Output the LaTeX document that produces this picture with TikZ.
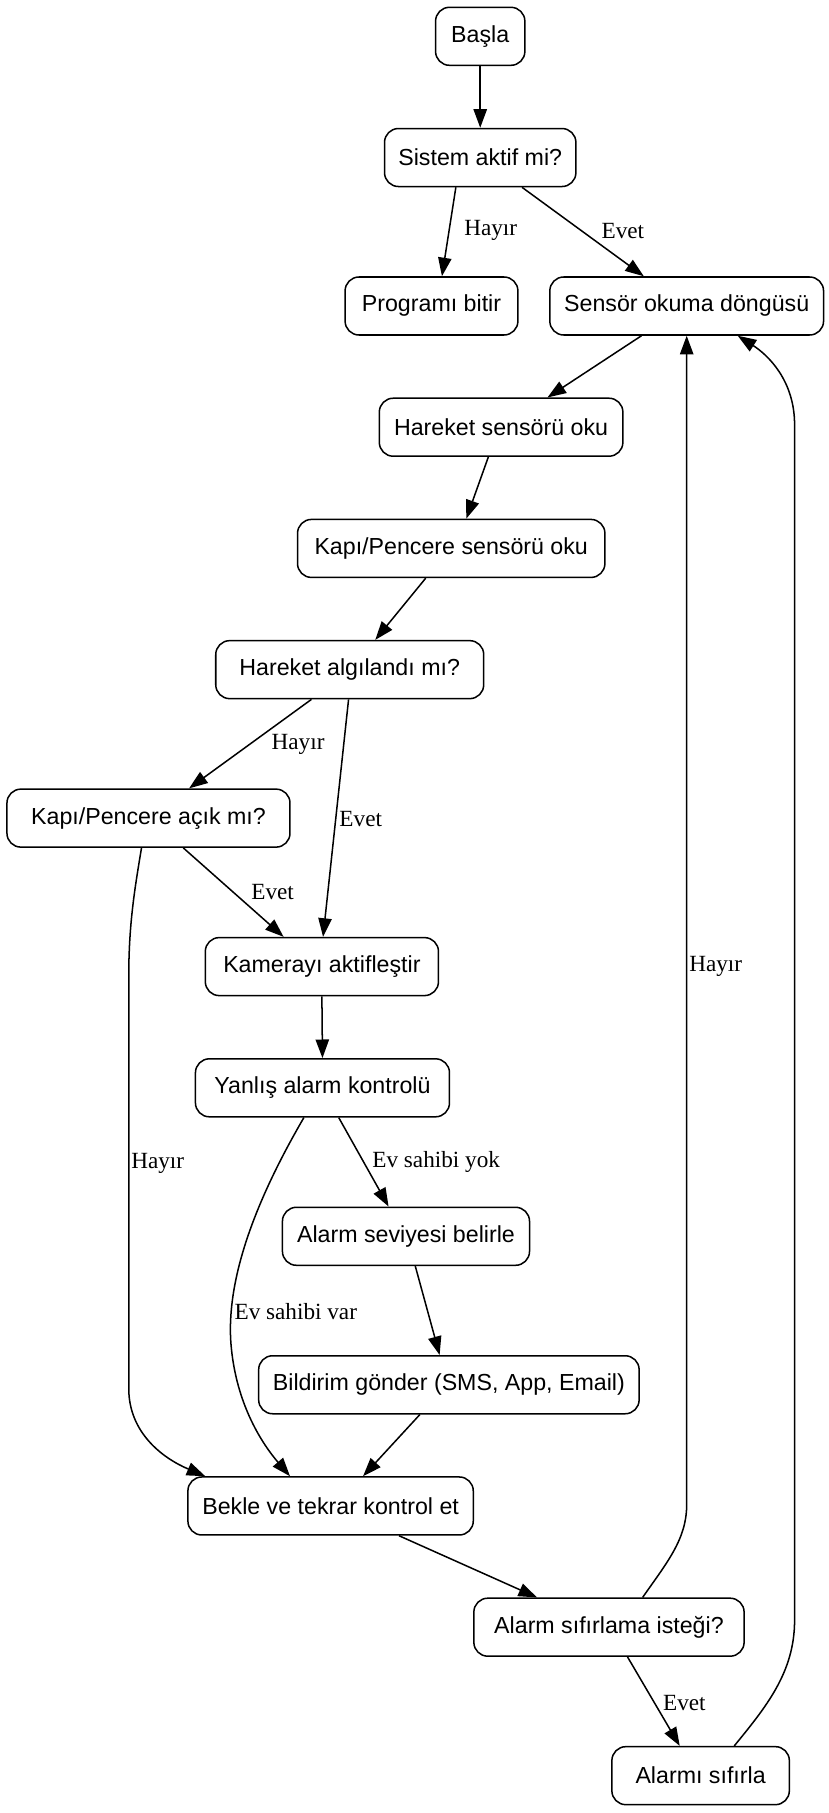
\documentclass[tikz,border=0pt]{standalone}
\usepackage{fontspec}
\setmainfont{Liberation Sans}
\newfontfamily\lblfont{Liberation Serif}
\usetikzlibrary{arrows.meta,calc}
\tikzset{
  box/.style={draw, line width=1.3pt, rounded corners=12pt, minimum height=50pt,
    inner xsep=6pt, inner ysep=0pt, font=\fontsize{20}{24}\selectfont, fill=white},
  conn/.style={line width=1.3pt, -{Triangle[length=16pt,width=11.5pt]}},
  lbl/.style={font=\lblfont\fontsize{20}{24}\selectfont, inner sep=0pt},
}
\begin{document}
\begin{tikzpicture}[x=1pt,y=-1pt]
\useasboundingbox (0,0) rectangle (714,1563);
\node[box, minimum width=77pt]  (basla) at (414,31.3) {Başla};
\node[box, minimum width=165pt] (sis)   at (414,135.8) {Sistem aktif mi?};
\node[box, minimum width=149pt] (prog)  at (372,263.8) {Programı bitir};
\node[box, minimum width=236pt] (sen)   at (592,263.8) {Sensör okuma döngüsü};
\node[box, minimum width=210pt] (hs)    at (432,368.3) {Hareket sensörü oku};
\node[box, minimum width=265pt] (kps)   at (389,472.8) {Kapı/Pencere sensörü oku};
\node[box, minimum width=231pt] (ha)    at (301.5,577.3) {Hareket algılandı mı?};
\node[box, minimum width=244pt] (kpa)   at (128,705.3) {Kapı/Pencere açık mı?};
\node[box, minimum width=201pt] (kam)   at (277.5,833.3) {Kamerayı aktifleştir};
\node[box, minimum width=219pt] (yan)   at (278,937.8) {Yanlış alarm kontrolü};
\node[box, minimum width=213pt] (asb)   at (350,1065.8) {Alarm seviyesi belirle};
\node[box, minimum width=328pt] (bil)   at (387,1193.8) {Bildirim gönder (SMS, App, Email)};
\node[box, minimum width=246pt] (bek)   at (285,1298.3) {Bekle ve tekrar kontrol et};
\node[box, minimum width=233pt] (asi)   at (525,1402.8) {Alarm sıfırlama isteği?};
\node[box, minimum width=153pt] (ars)   at (604,1530.8) {Alarmı sıfırla};

\draw[conn] (basla.south) -- (sis.north);
\draw[conn] ($(sis.south)+(-21,0)$) -- ($(prog.north)+(9,0)$);
\draw[conn] ($(sis.south)+(36,0)$) -- ($(sen.north)+(-37,0)$);
\draw[conn] ($(sen.south)+(-39,0)$) -- ($(hs.north)+(40,0)$);
\draw[conn] ($(hs.south)+(-11,0)$) -- ($(kps.north)+(13,0)$);
\draw[conn] ($(kps.south)+(-22,0)$) -- ($(ha.north)+(22,0)$);
\draw[conn] ($(ha.south)+(-33,0)$) -- ($(kpa.north)+(35,0)$);
\draw[conn] ($(ha.south)+(-1,0)$) -- ($(kam.north)+(1,0)$);
\draw[conn] ($(kpa.south)+(30,0)$) -- ($(kam.north)+(-33,0)$);
\draw[conn] ($(kpa.south)+(-6,0)$) .. controls (116,767) and (111,797) .. (111,842)
  -- (111,1197) .. controls (111,1235) and (140,1257) .. ($(bek.north)+(-108,0)$);
\draw[conn] (kam.south) -- (yan.north);
\draw[conn] ($(yan.south)+(14,0)$) -- ($(asb.north)+(-15,0)$);
\draw[conn] ($(yan.south)+(-16,0)$) .. controls (225,1027) and (195,1097) .. (199,1157)
  .. controls (203,1212) and (228,1247) .. ($(bek.north)+(-35,0)$);
\draw[conn] ($(asb.south)+(8,0)$) -- ($(bil.north)+(-8,0)$);
\draw[conn] ($(bil.south)+(-25,0)$) -- ($(bek.north)+(28,0)$);
\draw[conn] ($(bek.south)+(59,0)$) -- ($(asi.north)+(-62,0)$);
\draw[conn] ($(asi.north)+(29,0)$) .. controls (575,1347) and (592,1327) .. (592,1297)
  -- (sen.south);
\draw[conn] ($(asi.south)+(16,0)$) -- ($(ars.north)+(-18,0)$);
\draw[conn] ($(ars.north)+(29,0)$) .. controls (660,1472) and (685,1442) .. (685,1397)
  -- (685,366) .. controls (685,328) and (662,306) .. ($(sen.south)+(44,0)$);

\node[lbl] (l1) at (423,199) {Hayır};
\node[lbl] (l2) at (537,199) {Evet};
\node[lbl] (l3) at (257,642) {Hayır};
\node[lbl] (l4) at (311,706) {Evet};
\node[lbl] (l5) at (235,769) {Evet};
\node[lbl] (l6) at (136,1003) {Hayır};
\node[lbl] (l7) at (376,1002) {Ev sahibi yok};
\node[lbl] (l8) at (255,1131) {Ev sahibi var};
\node[lbl] (l9) at (617,833) {Hayır};
\node[lbl] (l10) at (590,1468) {Evet};
\end{tikzpicture}
\end{document}
